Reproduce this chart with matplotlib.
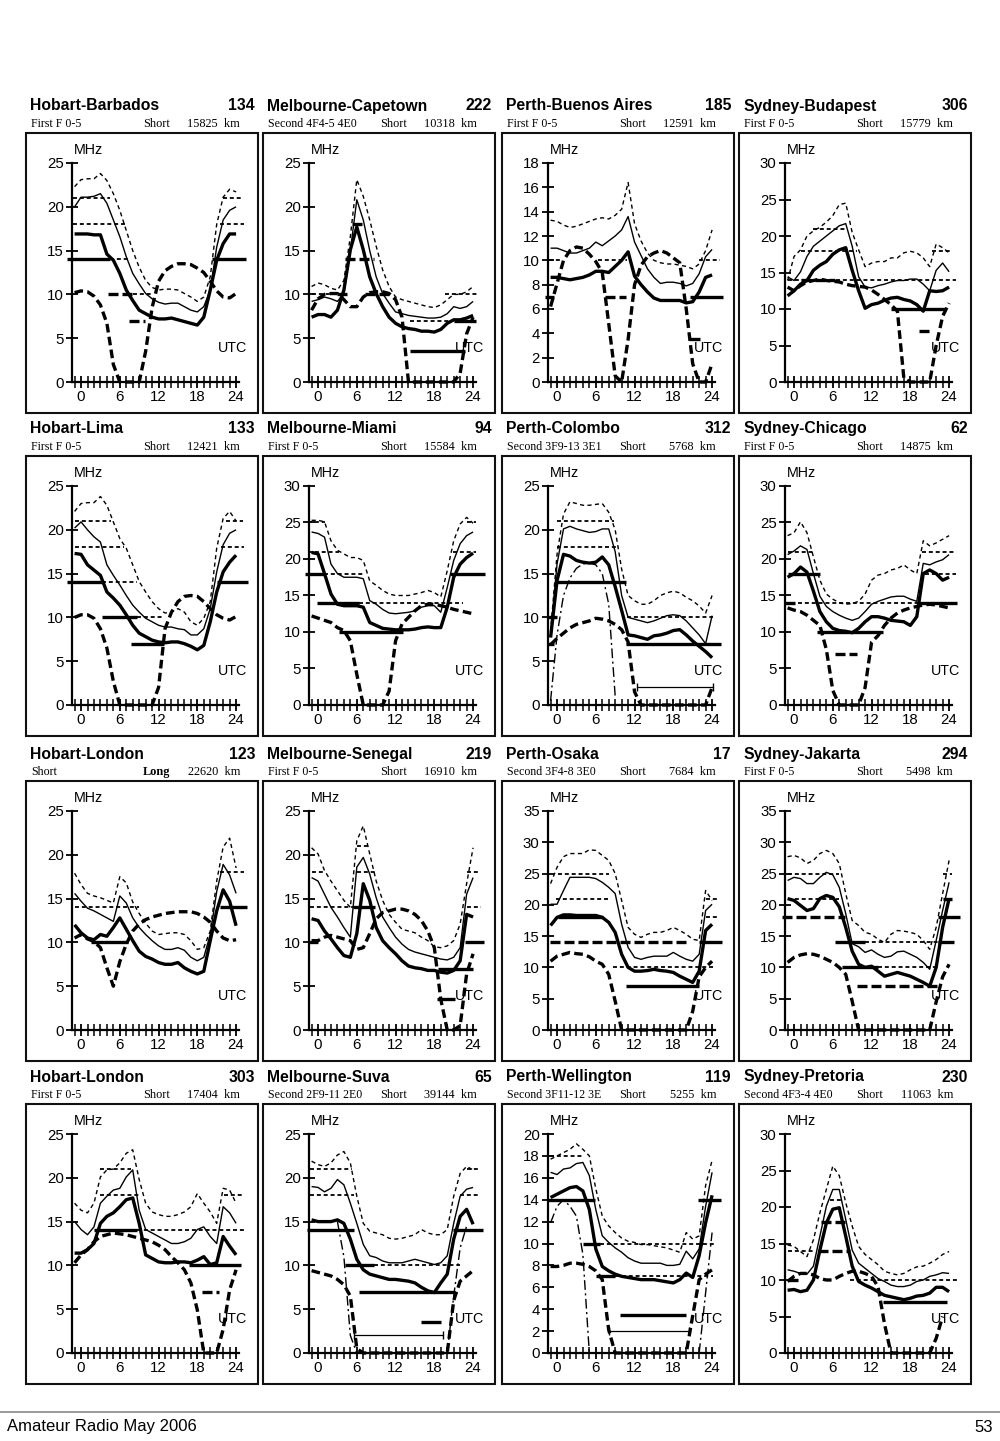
import numpy as np
import matplotlib.pyplot as plt
from matplotlib.patches import Rectangle

nan = np.nan
HOURS = np.arange(-1, 25)

# ---- panel headings ----
titles = ["Hobart-Barbados", "Melbourne-Capetown", "Perth-Buenos Aires", "Sydney-Budapest",
          "Hobart-Lima", "Melbourne-Miami", "Perth-Colombo", "Sydney-Chicago",
          "Hobart-London", "Melbourne-Senegal", "Perth-Osaka", "Sydney-Jakarta",
          "Hobart-London", "Melbourne-Suva", "Perth-Wellington", "Sydney-Pretoria"]
numbers = ["134", "222", "185", "306", "133", "94", "312", "62",
           "123", "219", "17", "294", "303", "65", "119", "230"]
modes = ["First F 0-5", "Second 4F4-5 4E0", "First F 0-5", "First F 0-5",
         "First F 0-5", "First F 0-5", "Second 3F9-13 3E1", "First F 0-5",
         "Short", "First F 0-5", "Second 3F4-8 3E0", "First F 0-5",
         "First F 0-5", "Second 2F9-11 2E0", "Second 3F11-12 3E", "Second 4F3-4 4E0"]
paths = ["Short"] * 8 + ["Long"] + ["Short"] * 7
dists = ["15825", "10318", "12591", "15779", "12421", "15584", "5768", "14875",
         "22620", "16910", "7684", "5498", "17404", "39144", "5255", "11063"]
ymaxes = [25, 25, 18, 30, 25, 30, 25, 30, 25, 25, 35, 35, 25, 25, 20, 30]
ysteps = [5, 5, 2, 5, 5, 5, 5, 5, 5, 5, 5, 5, 5, 5, 2, 5]

# ---- hourly frequencies (MHz), hours -1..24 ----
# upper decile (dotted), median (thin), lower decile (thick), ALF (thick dashed), E-mode (dash-dot)
up1 = [22.3,23.1,23.2,23.2,23.8,23.0,21.5,19.6,17.3,15.0,13.1,11.6,10.8,10.5,10.6,10.6,10.5,10.1,9.7,9.2,9.7,12.0,18.0,21.1,22.0,21.7]
med1 = [20.0,21.1,21.1,21.2,21.5,20.4,18.5,16.6,14.3,12.4,11.2,10.1,9.5,9.1,8.9,9.0,9.0,8.6,8.2,8.0,8.6,10.5,15.4,18.5,19.6,20.0]
low1 = [16.9,16.9,16.9,16.8,16.8,14.6,13.9,12.4,10.5,9.3,8.2,7.8,7.4,7.2,7.2,7.3,7.1,6.9,6.7,6.5,7.4,10.5,13.9,15.8,16.9,16.9]
alf1 = [10.2,10.4,10.3,9.8,8.8,6.7,2.0,0,0,0,0,3.5,8.5,11.5,12.7,13.2,13.5,13.5,13.4,13.0,12.5,11.5,10.4,9.7,9.6,10.1]

up2 = [10.9,11.3,11.1,10.7,10.5,11.6,16.6,23.1,21.2,18.5,15.5,12.8,10.9,9.7,9.4,9.2,9.0,8.8,8.6,8.5,8.8,9.4,10.0,10.0,10.3,10.9]
med2 = [9.2,9.4,9.7,9.5,9.2,10.1,15.0,20.8,18.5,15.0,12.0,10.1,9.0,8.0,7.8,7.6,7.5,7.4,7.3,7.3,7.4,7.8,8.6,8.4,8.6,9.2]
low2 = [7.4,7.7,7.7,7.4,8.2,10.5,15.1,17.7,15.1,12.0,10.1,8.6,7.4,6.7,6.3,6.1,6.0,5.8,5.8,5.7,6.0,6.7,7.1,7.1,7.3,7.6]
alf2 = [8.2,9.5,10.0,10.1,10.1,9.4,8.6,8.6,9.7,10.2,10.3,10.3,10.1,9.4,7.4,0,0,0,0,0,0,0,0,1.0,5.5,7.4]

up3 = [13.3,13.2,12.9,12.7,12.8,13.0,13.2,13.4,13.5,13.4,13.7,14.2,16.4,13.0,11.6,10.6,10.0,9.8,9.7,9.7,9.6,9.5,9.3,9.7,10.8,12.5]
med3 = [11.0,11.0,10.8,10.6,10.6,10.8,11.0,11.5,11.2,11.6,12.0,12.5,13.6,11.5,10.4,9.3,8.6,8.1,8.2,8.2,8.1,7.9,8.1,8.9,10.3,10.9]
low3 = [8.6,8.6,8.5,8.4,8.5,8.6,8.8,9.1,9.1,9.0,9.5,10.0,10.7,8.7,8.0,7.4,6.9,6.7,6.7,6.7,6.7,6.5,6.6,7.4,8.6,8.8]
alf3 = [6.2,8.1,10.0,10.8,11.1,11.0,10.5,9.9,9.0,4.8,0.5,0,3.5,8.0,9.6,10.3,10.6,10.8,10.6,10.2,9.8,6.0,1.5,0,0,1.5]

up4 = [13.9,17.2,18.1,20.0,20.7,21.2,21.9,22.8,24.3,24.5,20.5,18.1,15.8,16.3,16.5,16.5,17.0,17.0,17.7,17.9,17.7,17.0,15.8,18.9,18.4,17.7]
med4 = [14.4,13.9,15.1,17.2,18.6,19.3,20.0,20.7,21.4,21.7,18.6,14.4,13.0,12.9,13.2,13.4,13.7,13.9,13.9,14.1,14.1,13.4,12.5,15.3,16.3,15.1]
low4 = [13.0,12.5,13.4,13.9,15.3,16.0,16.5,17.5,18.1,18.4,15.3,12.5,10.1,10.6,10.8,11.2,11.5,11.6,11.3,11.1,10.6,9.7,12.5,12.4,12.5,13.0]
alf4 = [11.8,12.5,13.2,13.7,13.9,14.1,13.9,13.8,13.7,13.4,13.2,13.1,13.0,12.6,12.0,11.3,10.6,9.7,0.5,0,0,0,0,5.0,9.0,10.8]

up5 = [22.1,23.0,23.1,23.1,23.8,22.8,20.9,19.0,17.9,16.0,14.1,12.9,11.8,11.0,10.5,10.6,11.0,10.6,9.5,9.1,9.9,11.8,17.9,21.3,22.1,21.0]
med5 = [20.2,20.9,20.0,19.2,18.6,16.0,14.8,13.7,12.5,11.4,10.6,9.9,9.5,9.1,8.9,8.9,8.7,8.6,8.0,8.0,8.7,11.0,15.2,18.3,19.6,20.0]
low5 = [17.3,17.2,16.0,15.4,14.8,12.9,12.2,11.4,10.3,9.1,8.2,7.8,7.4,7.2,7.1,7.2,7.2,7.0,6.7,6.3,6.8,9.5,12.9,15.2,16.3,17.1]
alf5 = [10.0,10.3,10.3,9.9,8.7,6.5,2.7,0,0,0,0,0,0,2.0,8.7,10.6,11.8,12.4,12.5,12.4,11.8,11.0,10.3,9.9,9.7,10.1]

up6 = [25.3,25.3,25.1,22.5,21.2,20.7,20.2,20.2,19.8,17.0,16.4,15.7,15.2,15.0,15.0,15.0,15.2,15.4,15.7,15.4,14.8,18.4,22.5,24.8,25.7,24.9]
med6 = [23.7,23.5,23.0,19.3,18.0,17.5,17.5,17.5,17.3,14.3,13.8,13.1,12.6,12.5,12.6,12.7,12.9,13.4,13.6,13.6,12.7,16.1,19.8,22.1,23.2,23.7]
low6 = [20.9,20.7,18.0,15.2,13.8,13.6,13.6,13.6,13.4,11.3,10.9,10.5,10.4,10.3,10.3,10.3,10.4,10.6,10.7,10.6,10.6,13.4,17.5,19.3,20.2,20.8]
alf6 = [12.2,11.9,11.6,11.3,10.6,10.2,8.8,4.2,0,0,0,0,1.9,8.8,11.1,12.0,12.9,13.6,13.8,13.8,13.6,13.4,13.1,12.9,12.7,12.5]

up7 = [8.4,17.2,21.8,23.2,23.0,22.8,22.8,22.9,23.0,22.0,20.0,15.5,12.5,11.9,11.5,11.5,11.9,12.5,12.8,13.0,12.8,12.3,11.9,11.3,10.5,12.5]
med7 = [8.0,16.1,20.1,20.4,20.1,19.9,19.7,19.8,20.1,20.1,17.5,12.5,10.0,9.8,9.6,9.4,9.6,9.9,10.2,10.3,10.2,9.6,8.8,8.0,7.0,10.2]
low7 = [7.7,14.2,17.2,17.0,16.5,16.3,16.2,16.3,16.9,16.0,13.5,10.8,8.0,7.9,7.7,7.5,7.9,8.0,8.2,8.5,8.6,8.0,7.3,6.7,6.1,5.4]
alf7 = [6.9,7.6,8.2,8.8,9.2,9.4,9.6,9.9,9.8,9.6,9.2,8.6,7.2,1.5,0,0,0,0,0,0,0,0,0,0,0,2.0]
e7 = [0.5,8.0,12.5,14.5,15.6,16.1,16.2,16.0,15.0,11.5,1.0,nan,nan,nan,nan,nan,nan,nan,nan,nan,nan,nan,nan,nan,nan,nan]

up8 = [23.2,23.6,25.1,23.6,20.3,17.1,15.2,14.5,14.0,13.8,13.9,14.2,15.2,17.1,17.8,18.0,18.5,18.7,19.2,18.5,18.0,22.5,21.8,22.2,22.7,23.2]
med8 = [20.6,21.1,21.8,21.3,18.0,14.9,13.5,12.8,12.3,11.9,11.6,11.9,12.8,13.8,14.2,14.5,14.8,14.9,14.9,14.5,14.2,19.4,19.2,19.6,19.9,20.6]
low8 = [17.5,18.0,18.9,18.2,15.6,12.8,11.4,10.5,10.2,10.1,9.9,10.5,11.4,12.1,12.1,11.9,11.6,11.5,11.4,10.9,12.1,18.0,18.5,18.0,17.1,17.5]
alf8 = [13.3,13.0,12.8,12.3,11.6,10.9,7.6,2.0,0,0,0,0,2.4,8.6,9.5,10.9,11.9,12.6,13.0,13.3,13.5,13.7,13.8,13.7,13.5,13.3]

up9 = [17.9,16.6,15.6,15.3,15.1,14.8,14.5,17.5,16.8,14.6,13.3,12.2,11.3,10.9,11.0,11.1,11.1,10.9,10.2,9.2,9.4,11.3,17.0,20.9,21.9,18.5]
med9 = [15.6,14.7,13.9,13.6,13.2,12.8,12.4,15.3,14.5,12.8,11.7,10.9,10.2,9.6,9.2,9.2,9.4,9.1,8.3,7.9,8.3,10.9,15.8,18.9,17.7,15.6]
low9 = [12.0,11.1,10.5,10.3,10.9,10.7,11.7,12.8,11.5,10.2,9.0,8.4,8.1,7.7,7.5,7.5,7.7,7.1,6.7,6.4,6.7,10.2,13.6,16.0,14.7,11.9]
alf9 = [10.5,10.9,10.4,10.1,9.4,7.1,5.0,7.8,9.8,11.3,12.1,12.6,12.9,13.1,13.3,13.4,13.5,13.5,13.5,13.3,12.9,12.3,11.3,10.5,10.2,10.3]

up10 = [20.8,20.1,18.2,17.0,15.9,14.8,14.0,21.6,23.3,20.1,17.0,14.8,13.2,12.3,11.5,11.3,11.1,10.6,10.2,9.5,9.4,9.6,10.2,12.1,16.7,20.8]
med10 = [17.4,17.0,15.5,14.0,12.9,11.7,10.6,18.6,19.7,17.8,15.1,12.9,11.7,10.6,9.8,9.2,8.9,8.7,8.5,8.3,8.1,8.0,8.3,9.4,15.5,17.4]
low10 = [12.7,12.5,11.3,10.4,9.4,8.5,8.3,11.0,16.7,14.8,11.7,10.2,9.4,8.7,7.9,7.3,7.1,7.0,6.8,6.8,6.6,6.5,6.8,7.9,13.2,12.9]
alf10 = [10.2,10.2,10.6,10.8,10.6,10.4,10.2,9.2,9.4,11.0,12.7,13.4,13.6,13.8,13.8,13.6,13.2,12.5,11.3,9.4,3.5,0,0,0.5,6.4,8.7]

up11 = [23.4,26.0,27.7,28.2,28.2,28.2,28.8,28.7,27.9,27.1,25.0,20.7,16.4,15.3,14.8,15.3,15.6,15.6,15.9,16.4,15.9,15.3,14.5,14.3,22.3,20.7]
med11 = [20.1,20.1,22.3,24.4,24.4,24.4,24.4,24.2,23.6,22.8,21.8,16.9,13.2,11.6,11.3,11.6,11.8,11.8,11.8,12.4,11.8,11.3,11.0,12.1,19.1,20.1]
low11 = [16.7,18.0,18.4,18.4,18.3,18.3,18.3,18.3,18.0,17.2,15.6,12.1,10.0,9.4,9.4,9.5,9.7,9.5,9.4,9.2,8.6,8.1,7.6,9.4,15.9,16.9]
alf11 = [11.0,11.8,12.1,12.4,12.2,12.1,11.7,11.0,10.5,8.9,4.6,0,0,0,0,0,0,0,0,0,0,0,3.0,8.5,10.0,11.0]

up12 = [27.7,27.9,27.5,26.6,27.1,28.2,28.7,28.2,26.6,21.8,17.5,16.7,15.6,15.3,14.5,14.0,15.3,15.9,15.8,15.6,15.3,14.3,12.9,16.4,21.8,27.1]
med12 = [23.9,24.4,24.2,23.4,23.4,24.4,25.2,24.8,22.8,18.6,13.8,13.3,12.4,12.8,12.1,11.6,11.8,12.5,12.6,12.1,11.6,10.8,9.7,14.3,19.1,23.6]
low12 = [21.0,20.7,19.9,19.1,19.4,21.0,21.5,21.2,19.7,16.4,12.6,10.5,10.0,10.2,9.4,8.6,8.9,9.2,8.9,8.6,8.1,7.6,7.0,10.0,16.4,21.0]
alf12 = [10.8,11.6,12.0,12.2,12.1,11.8,11.3,10.8,10.0,8.9,4.6,0,0,0,0,0,0,0,0,0,0,0,0,4.5,8.5,10.5]

up13 = [17.1,16.3,16.0,17.1,20.1,20.9,21.0,21.7,22.8,23.2,19.8,17.1,16.1,15.8,15.6,15.6,15.8,16.1,16.7,18.2,17.1,16.1,14.8,18.8,18.6,17.1]
med13 = [15.0,14.1,13.5,14.4,17.1,17.9,18.6,18.8,20.1,20.9,16.3,14.1,13.7,13.3,12.9,12.5,12.5,12.7,13.1,14.1,14.4,13.3,12.5,16.7,16.0,14.8]
low13 = [11.4,11.4,11.8,12.5,14.8,15.6,16.0,16.7,17.5,17.7,14.8,11.2,10.8,10.4,10.3,10.3,10.4,10.4,10.3,10.6,11.0,10.1,10.3,13.3,12.2,11.2]
alf13 = [10.3,11.2,11.8,12.7,13.3,13.5,13.7,13.6,13.5,13.3,13.1,12.9,12.7,12.3,11.8,11.0,10.3,9.5,8.0,4.9,0,0,0,2.7,7.2,9.5]

up14 = [21.9,21.5,21.3,21.7,22.6,23.0,21.7,17.9,14.8,13.9,13.7,13.5,13.1,13.0,13.1,13.3,13.5,14.1,13.7,13.5,13.5,14.1,17.9,20.5,21.3,20.9]
med14 = [19.0,18.9,18.4,18.8,19.8,19.2,17.1,14.8,12.4,11.1,10.9,10.5,10.3,10.3,10.3,10.5,10.7,10.5,10.3,10.1,10.3,11.1,14.8,17.9,18.7,18.9]
low14 = [15.2,15.0,15.0,15.0,15.2,14.8,13.0,10.7,9.5,9.0,8.8,8.6,8.4,8.4,8.3,8.2,8.0,7.5,7.1,6.9,8.0,9.0,13.0,15.6,16.4,14.7]
alf14 = [9.4,9.2,9.0,8.8,8.4,7.8,6.5,0.5,0,0,0,0,0,0,0,0,0,0,0,0,0,0,6.0,8.2,8.8,9.4]
e14 = [nan,nan,nan,nan,15.0,11.0,2.0,0,nan,nan,nan,nan,nan,nan,nan,nan,nan,nan,nan,nan,nan,0,6.5,12.0,14.5,nan]

up15 = [17.7,18.0,18.3,18.6,19.1,18.6,18.0,15.0,12.5,11.6,11.0,10.5,10.2,10.1,9.9,9.9,9.8,9.7,9.6,9.4,9.2,11.0,10.4,10.7,15.3,17.6]
med15 = [16.5,16.3,16.8,16.9,17.3,17.4,16.2,13.1,10.7,10.1,9.6,9.2,8.7,8.4,8.2,8.2,8.2,8.2,8.0,8.0,8.1,9.3,8.6,9.5,13.4,16.5]
low15 = [14.2,14.5,14.8,15.1,15.2,14.8,13.1,9.5,7.9,7.5,7.2,7.0,6.9,6.8,6.7,6.7,6.7,6.6,6.5,6.4,6.7,7.3,6.9,8.9,11.9,14.4]
alf15 = [7.9,7.9,8.0,8.2,8.2,8.1,7.9,7.5,6.7,2.1,0,0,0,0,0,0,0,0,0,0,0,0,3.4,6.7,7.2,7.6]
e15 = [11.9,13.4,14.0,13.4,12.5,9.0,0,nan,nan,nan,nan,nan,nan,nan,nan,nan,nan,nan,nan,nan,nan,nan,nan,0,5.5,11.0]

up16 = [14.8,14.6,13.9,13.2,15.5,19.2,22.4,25.6,24.3,20.6,17.4,14.6,13.5,12.8,12.1,11.2,10.9,10.7,10.9,11.4,11.8,11.9,12.3,12.8,13.5,13.9]
med16 = [11.4,11.2,10.9,10.8,11.9,16.0,20.1,22.4,22.4,18.3,14.1,12.3,11.6,10.9,10.2,9.8,9.3,9.1,9.1,9.3,9.8,10.0,10.5,10.7,11.0,10.9]
low16 = [8.6,8.7,8.4,8.6,10.0,14.1,17.8,19.7,19.9,16.0,11.9,9.8,9.3,8.9,8.4,7.9,7.7,7.5,7.3,7.5,7.8,7.9,8.2,9.0,9.0,8.4]
alf16 = [9.8,10.5,10.9,10.9,10.7,10.2,10.0,10.0,10.5,10.9,11.2,11.2,10.9,10.5,9.1,4.0,0,0,0,0,0,0,0,2.0,5.0,nan]

# ---- band openings: (band MHz, from hour, to hour, class) ----
bands1 = [(21,-1.2,4.5,'upper'),(21,22,25,'upper'),(18,-1.2,7,'upper'),(18,21.5,25.2,'upper'),
          (14,-2.1,4.5,'lower'),(14,4.5,7.5,'upper'),(14,20.3,25.5,'lower'),
          (10,4.1,8.1,'alf'),(10,8.1,10.8,'upper'),(7,7.4,9.9,'alf')]
bands2 = [(10,-1,2.9,'upper'),(10,2.9,4.7,'alf'),(10,7.3,11.4,'alf'),(10,19.6,24.7,'upper'),
          (14,4.1,8.6,'alf'),(18,5.2,7.5,'alf'),(7,14.2,21.1,'upper'),(7,21.1,24.5,'lower'),
          (3.5,14.2,22.7,'lower')]
bands3 = [(10,-1.3,0.8,'upper'),(10,6.4,10.8,'upper'),(10,22,25.2,'upper'),(7,-1.8,-0.5,'lower'),
          (7,7.5,10.6,'alf'),(7,20.6,25.7,'lower'),(3.5,20.5,22.2,'lower')]
bands4 = [(14,-1,25,'upper'),(14,1,6.3,'alf'),(18,1,9.7,'upper'),(18,21.4,24.5,'upper'),
          (21,3,7.9,'upper'),(10,15,23.5,'lower'),(7,19.3,21.4,'alf')]
bands5 = [(21,-1,4.6,'upper'),(21,22.4,25,'upper'),(18,-1,6.6,'upper'),(18,21.7,25.3,'upper'),
          (14,-2.2,3.3,'lower'),(14,3.3,8.7,'upper'),(14,21.1,25.8,'lower'),
          (10,3.3,8.7,'lower'),(10,8.7,12.8,'upper'),(7,7.7,12.8,'lower')]
bands6 = [(25,-1.5,1.1,'upper'),(25,23,24.5,'upper'),(21,-1.5,3.2,'upper'),(21,20.9,24.5,'upper'),
          (18,-2,0.9,'lower'),(18,0.9,6.9,'upper'),(18,20.4,25.8,'lower'),
          (14,-0.2,6.3,'lower'),(14,6.3,22.4,'upper'),(10,3.2,13.1,'lower')]
bands7 = [(21,0,8.8,'upper'),(18,0,9.6,'upper'),(14,-0.3,10.6,'lower'),(10,-1.5,0.5,'alf'),
          (10,10.9,24.1,'upper'),(7,-1.6,-0.4,'lower'),(7,10.6,25.4,'lower'),(2,12.4,24.1,'e')]
bands8 = [(21,-1,3.2,'upper'),(21,19.8,25,'upper'),(18,-1,4,'lower'),(18,20.3,25,'upper'),
          (14,-1.4,0.6,'alf'),(14,0.6,19.8,'upper'),(14,19,25.2,'lower'),(10,3.5,13.8,'lower'),
          (7,6.3,9.7,'alf')]
bands9 = [(14,-1,8.9,'upper'),(10,1.6,7.3,'lower'),(18,21.5,25.2,'upper'),(14,21.5,25.7,'lower')]
bands10 = [(21,6,8,'upper'),(18,-1,1,'upper'),(18,6,8.8,'upper'),(18,23,25,'upper'),
           (14,-1.3,6,'upper'),(14,5.4,8.8,'lower'),(14,23,25.3,'upper'),(10,-1.5,0,'lower'),
           (10,22.8,25.7,'lower'),(7,18.6,24,'lower'),(3.5,18.4,21.2,'lower')]
bands11 = [(25,0.2,8.1,'upper'),(21,-0.1,8.1,'upper'),(21,23,25.1,'upper'),(18,0.2,7.1,'lower'),
           (18,23,25.1,'upper'),(14,-1.1,20,'alf'),(14,22,25.6,'lower'),(10,8.7,24.1,'upper'),
           (7,10.7,22,'lower')]
bands12 = [(25,-0.9,6.9,'upper'),(25,23,24.5,'upper'),(21,-0.9,6.9,'upper'),(21,23,24.5,'lower'),
           (18,-1.9,7.9,'alf'),(18,22.3,25.7,'lower'),(14,6.3,11,'lower'),(14,11,22.3,'upper'),
           (14,22.3,24.8,'lower'),(10,7.4,13,'lower'),(10,13,22.3,'upper'),(7,9.7,22.3,'alf')]
bands13 = [(21,3,7.8,'upper'),(18,3,8.9,'upper'),(18,22.2,25,'upper'),(14,2,8.6,'lower'),
           (14,8.6,25.3,'upper'),(10,16.7,24.8,'lower'),(7,18.8,21.4,'alf')]
bands14 = [(21,-1.2,5.2,'upper'),(21,23,25,'upper'),(18,-1.2,5.5,'upper'),(18,22,25,'upper'),
           (14,-1.7,5.5,'lower'),(14,20.9,25.5,'lower'),(10,4.2,8.6,'lower'),(10,8.6,22,'upper'),
           (7,6.3,21.2,'lower'),(3.5,16,19.1,'lower'),(2,5.5,19.4,'e')]
bands15 = [(18,-1.1,4,'upper'),(14,-1.6,5.8,'lower'),(14,21.8,25.4,'lower'),(10,4,6.6,'lower'),
           (10,6.6,24.4,'upper'),(7,6.1,8.9,'lower'),(7,8.9,24.1,'upper'),(3.5,9.7,20,'lower'),
           (2,8.1,20.5,'e')]
bands16 = [(21,5.5,7.3,'upper'),(18,4.2,8.3,'alf'),(14,-1,2.9,'upper'),(14,3.7,8.6,'alf'),
           (10,8.6,25.5,'upper'),(10,-1,0.8,'alf'),(7,13.8,23.7,'lower')]

uppers = [up1, up2, up3, up4, up5, up6, up7, up8, up9, up10, up11, up12, up13, up14, up15, up16]
medians = [med1, med2, med3, med4, med5, med6, med7, med8, med9, med10, med11, med12, med13, med14, med15, med16]
lowers = [low1, low2, low3, low4, low5, low6, low7, low8, low9, low10, low11, low12, low13, low14, low15, low16]
alfs = [alf1, alf2, alf3, alf4, alf5, alf6, alf7, alf8, alf9, alf10, alf11, alf12, alf13, alf14, alf15, alf16]
emodes = {7: e7, 14: e14, 15: e15}
bands = [bands1, bands2, bands3, bands4, bands5, bands6, bands7, bands8,
         bands9, bands10, bands11, bands12, bands13, bands14, bands15, bands16]

# ---- page geometry (pixels) ----
W, H = 1000, 1441
COL_LEFT = [26, 263, 502, 739]
ROW_TOP = [133, 456, 781, 1104]
BOX_W, BOX_H = 232, 280
XL = -1.4
XR = XL + (BOX_W - 46) / 6.46

band_style = {
    'upper': dict(lw=1.3, ls=(0, (2.2, 1.6))),
    'lower': dict(lw=2.4, ls='-'),
    'alf': dict(lw=2.4, ls=(0, (3.0, 1.2))),
    'e': dict(lw=0.9, ls='-', marker='|', ms=6, mew=1.0),
}

sans = ['Liberation Sans', 'DejaVu Sans']
serif = ['Liberation Serif', 'DejaVu Serif']
plt.rcParams['font.family'] = sans


def fx(px):
    return px / W


def fy(py):
    return 1 - py / H


fig = plt.figure(figsize=(W / 100, H / 100), dpi=100)
fig.patch.set_facecolor('white')

for i in range(16):
    row, col = divmod(i, 4)
    bl, bt = COL_LEFT[col], ROW_TOP[row]
    br = bl + BOX_W

    # headings
    fig.text(fx(bl + 4), fy(bt - 27), titles[i], ha='left', va='center',
             fontsize=11.3, fontweight='bold', family=sans)
    fig.text(fx(br - 3), fy(bt - 27), numbers[i], ha='right', va='center',
             fontsize=11.3, fontweight='bold', family=sans)
    fig.text(fx(bl + 5), fy(bt - 9), modes[i], ha='left', va='center',
             fontsize=8.6, family=serif)
    fig.text(fx(bl + 117), fy(bt - 9), paths[i], ha='left', va='center',
             fontsize=8.8, family=serif,
             fontweight='bold' if paths[i] == 'Long' else 'normal')
    fig.text(fx(br - 18), fy(bt - 9), dists[i] + '  km', ha='right', va='center',
             fontsize=8.8, family=serif)

    fig.add_artist(Rectangle((fx(bl), fy(bt + BOX_H)), BOX_W / W, BOX_H / H,
                             transform=fig.transFigure, fill=False, lw=1.5, ec='#111111'))

    ax = fig.add_axes([fx(bl + 46), fy(bt + 249), (BOX_W - 46) / W, 219 / H])
    ax.set_facecolor('none')
    ymax = ymaxes[i]
    ax.set_xlim(XL, XR)
    ax.set_ylim(0, ymax)
    for s in ['top', 'right']:
        ax.spines[s].set_visible(False)
    for s in ['left', 'bottom']:
        ax.spines[s].set_linewidth(1.6)
    ax.spines['bottom'].set_bounds(XL, 24.5)

    ax.set_xticks([0, 6, 12, 18, 24])
    ax.set_xticks(np.arange(-1, 25), minor=True)
    ax.set_yticks(np.arange(0, ymax + 1, ysteps[i]))
    ax.tick_params(axis='both', which='both', direction='inout', length=8, width=1.3,
                   labelsize=10.8, pad=2)
    ax.tick_params(axis='x', which='minor', length=8, width=1.1)

    ax.annotate('MHz', xy=(XL, ymax), xytext=(1, 4), textcoords='offset points',
                ha='left', va='bottom', fontsize=10.3)
    ax.text(23.5, 0.155, 'UTC', transform=ax.get_xaxis_transform(),
            ha='center', va='center', fontsize=10.3)

    kw = dict(color='black', clip_on=False, solid_capstyle='butt', dash_capstyle='butt')
    ax.plot(HOURS, uppers[i], lw=1.0, ls=(0, (3, 2.4)), **kw)
    ax.plot(HOURS, medians[i], lw=1.0, **kw)
    ax.plot(HOURS, lowers[i], lw=2.4, **kw)
    ax.plot(HOURS, alfs[i], lw=2.4, ls=(0, (2.6, 1.3)), **kw)
    if i + 1 in emodes:
        ax.plot(HOURS, emodes[i + 1], lw=1.0, ls=(0, (7, 2.5, 1.5, 2.5)), **kw)

    for band, h0, h1, cls in bands[i]:
        ax.plot([h0, h1], [band, band], **band_style[cls], **kw)

# footer
fig.add_artist(plt.Line2D([0, 1], [fy(1412), fy(1412)], transform=fig.transFigure,
                          color='#888888', lw=1.2))
foot = ['Liberation Sans Narrow', 'Liberation Sans']
fig.text(fx(7), fy(1427), 'Amateur Radio May 2006', ha='left', va='center',
         fontsize=12, family=foot)
fig.text(fx(993), fy(1427), '53', ha='right', va='center', fontsize=12, family=foot)

fig.savefig('out.png', dpi=100)
